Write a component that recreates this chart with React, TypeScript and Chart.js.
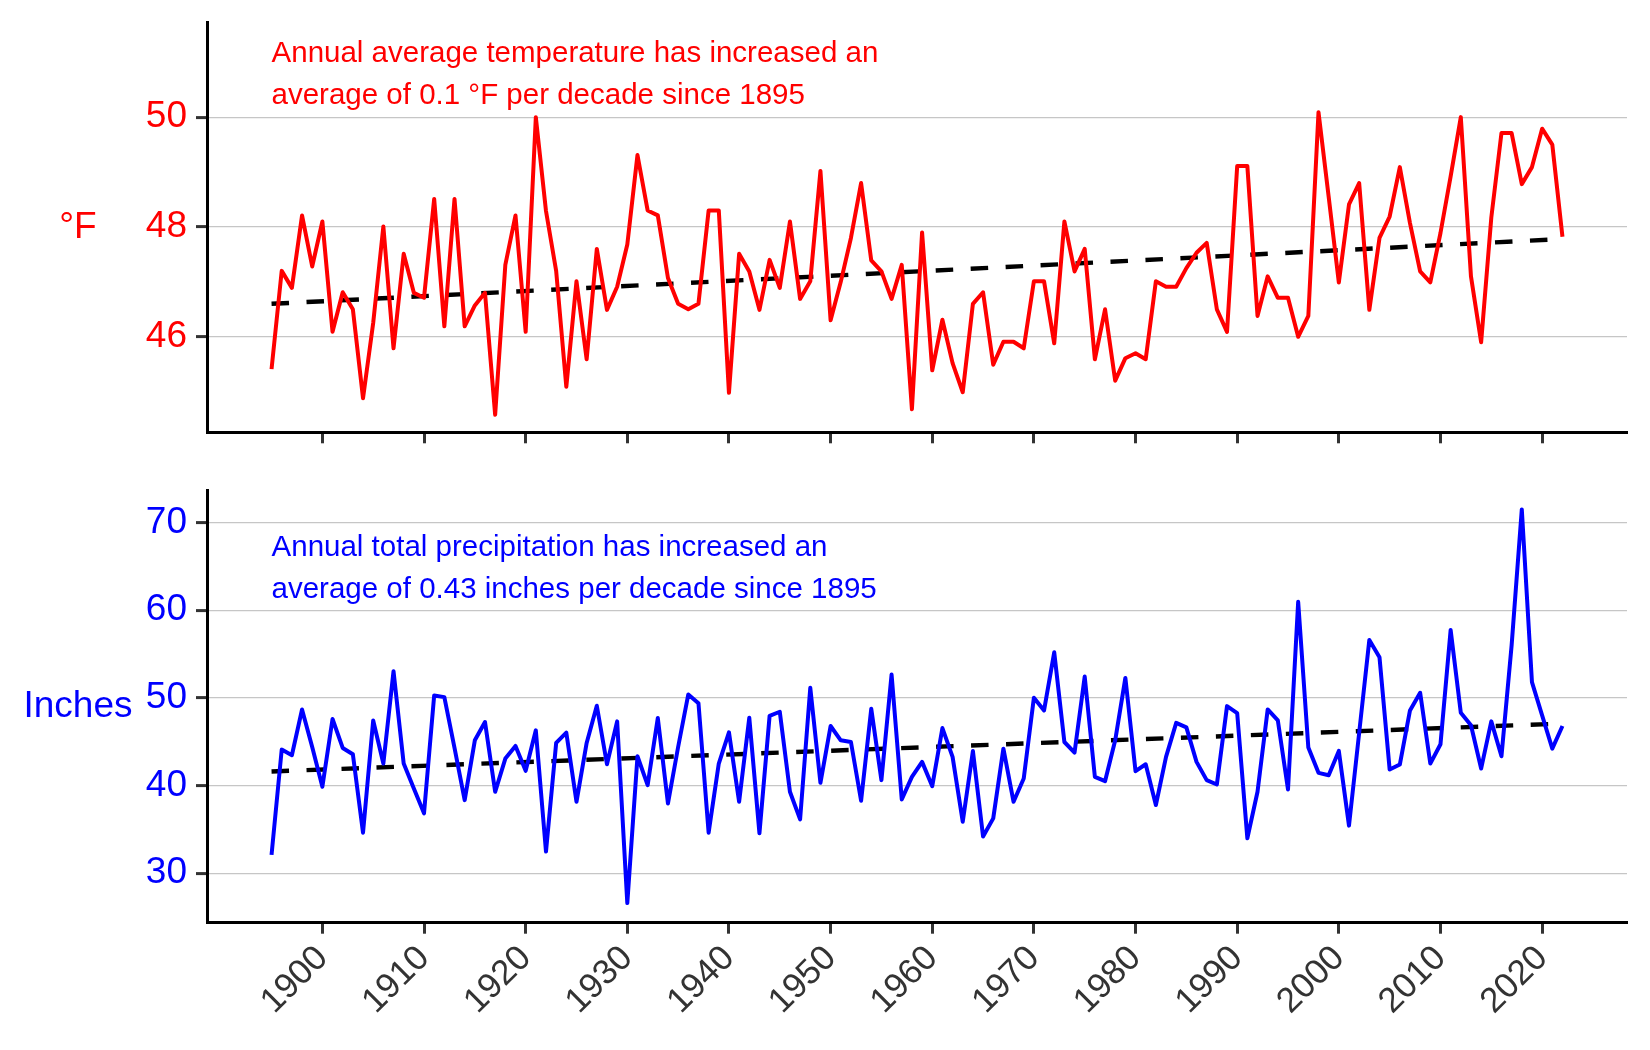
import { useEffect, useRef } from 'react';
import { Chart, registerables } from 'chart.js';

Chart.register(...registerables);

const years: number[] = Array.from({ length: 128 }, (_, i) => 1895 + i);

// annual average temperature, °F (1895-2022)
const temperature: number[] = [
  45.41, 47.2, 46.89, 48.21, 47.28,
  48.1, 46.09, 46.81, 46.5, 44.88, 46.25, 48.01, 45.79, 47.51, 46.8,
  46.71, 48.51, 46.19, 48.51, 46.19, 46.57, 46.8, 44.58, 47.31, 48.21,
  46.09, 50.0, 48.29, 47.2, 45.09, 47.01, 45.59, 47.6, 46.49, 46.91,
  47.68, 49.31, 48.3, 48.21, 47.07, 46.6, 46.5, 46.6, 48.3, 48.3,
  44.98, 47.51, 47.19, 46.49, 47.4, 46.89, 48.1, 46.69, 47.01, 49.02,
  46.3, 47.0, 47.8, 48.8, 47.39, 47.19, 46.69, 47.31, 44.68, 47.9,
  45.39, 46.31, 45.52, 44.99, 46.6, 46.81, 45.49, 45.91, 45.91, 45.79,
  47.01, 47.01, 45.88, 48.1, 47.19, 47.6, 45.59, 46.5, 45.2, 45.61,
  45.7, 45.59, 47.01, 46.91, 46.91, 47.25, 47.53, 47.71, 46.5, 46.09,
  49.11, 49.11, 46.38, 47.1, 46.71, 46.71, 46.0, 46.38, 50.09, 48.55,
  46.99, 48.41, 48.8, 46.49, 47.8, 48.19, 49.09, 48.07, 47.19, 46.99,
  47.89, 48.92, 50.0, 47.1, 45.9, 48.17, 49.71, 49.71, 48.78, 49.09,
  49.79, 49.5, 47.82,
];

// annual total precipitation, inches (1895-2022)
const precipitation: number[] = [
  32.08, 44.09, 43.45, 48.67, 44.39,
  39.85, 47.58, 44.28, 43.56, 34.62, 47.42, 42.5, 53.03, 42.5, 39.66,
  36.82, 50.27, 50.08, 44.3, 38.33, 45.15, 47.24, 39.28, 43.07, 44.51,
  41.67, 46.29, 32.46, 44.85, 46.02, 38.14, 44.85, 49.09, 42.42, 47.31,
  26.59, 43.33, 40.04, 47.69, 37.95, 44.39, 50.38, 49.39, 34.62, 42.5,
  46.06, 38.14, 47.73, 34.55, 47.95, 48.41, 39.28, 36.14, 51.14, 40.3,
  46.78, 45.15, 44.96, 38.26, 48.75, 40.61, 52.65, 38.41, 40.98, 42.69,
  39.92, 46.55, 43.26, 35.87, 43.94, 34.17, 36.25, 44.2, 38.14, 40.8,
  50.0, 48.56, 55.19, 44.96, 43.75, 52.42, 40.98, 40.49, 45.15, 52.27,
  41.63, 42.42, 37.77, 43.26, 47.14, 46.63, 42.69, 40.61, 40.11, 49.05,
  48.26, 33.98, 39.28, 48.67, 47.42, 39.55, 60.95, 44.32, 41.44, 41.17,
  43.94, 35.42, 46.0, 56.59, 54.62, 41.82, 42.39, 48.56, 50.57, 42.5,
  44.7, 57.73, 48.3, 46.86, 41.93, 47.31, 43.33, 56.0, 71.48, 51.78,
  47.99, 44.2, 46.78,
];

// linear trend end points
const trendYears: number[] = [1895, 2022];
const temperatureTrend: number[] = [46.6, 47.78];
const precipitationTrend: number[] = [41.6, 47.06];

const decadeTicks: number[] = [1900, 1910, 1920, 1930, 1940, 1950, 1960, 1970, 1980, 1990, 2000, 2010, 2020];
const temperatureTicks: number[] = [46, 48, 50];
const precipitationTicks: number[] = [30, 40, 50, 60, 70];

const temperatureNote: string[] = [
  'Annual average temperature has increased an',
  'average of 0.1 °F per decade since 1895',
];
const precipitationNote: string[] = [
  'Annual total precipitation has increased an',
  'average of 0.43 inches per decade since 1895',
];

const FONT = '"Liberation Sans", Arial, Helvetica, sans-serif';

interface PanelProps {
  values: number[];
  trend: number[];
  color: string;
  yMin: number;
  yMax: number;
  yTicks: number[];
  yTitle: string;
  note: string[];
  noteTop: number;
  showYearLabels: boolean;
  height: number;
  padTop: number;
  xAxisHeight: number;
}

const Panel: React.FC<PanelProps> = (p) => {
  const canvasRef = useRef<HTMLCanvasElement | null>(null);

  useEffect(() => {
    if (!canvasRef.current) return;

    const textPlugin = {
      id: 'panelText',
      afterDraw(chart: Chart) {
        const { ctx, chartArea, scales } = chart;
        ctx.save();
        ctx.fillStyle = p.color;
        ctx.font = `29.5px ${FONT}`;
        ctx.textAlign = 'left';
        ctx.textBaseline = 'alphabetic';
        const x0 = scales.x.getPixelForValue(years[0]);
        p.note.forEach((line, i) => ctx.fillText(line, x0, chartArea.top + p.noteTop + i * 42));
        ctx.font = `37px ${FONT}`;
        ctx.textAlign = 'center';
        ctx.textBaseline = 'middle';
        ctx.fillText(p.yTitle, 78, (chartArea.top + chartArea.bottom) / 2);
        ctx.restore();
      },
    };

    const chart = new Chart(canvasRef.current, {
      type: 'line',
      data: {
        datasets: [
          {
            data: years.map((y, i) => ({ x: y, y: p.values[i] })),
            borderColor: p.color,
            borderWidth: 4,
            borderJoinStyle: 'round',
            pointRadius: 0,
            tension: 0,
          },
          {
            data: trendYears.map((y, i) => ({ x: y, y: p.trend[i] })),
            borderColor: '#000',
            borderWidth: 4.4,
            borderDash: [17.5, 17.5],
            pointRadius: 0,
          },
        ],
      },
      options: {
        responsive: false,
        animation: false,
        layout: { padding: { top: p.padTop, right: 23, left: 0, bottom: 0 } },
        plugins: { legend: { display: false }, tooltip: { enabled: false } },
        scales: {
          x: {
            type: 'linear',
            min: 1888.65,
            max: 2028.35,
            afterBuildTicks: (s: any) => {
              s.ticks = decadeTicks.map((v) => ({ value: v }));
            },
            afterFit: (s: any) => {
              s.height = p.xAxisHeight;
              s.paddingLeft = 0;
              s.paddingRight = 0;
            },
            grid: { drawOnChartArea: false, drawTicks: true, tickLength: 11, tickWidth: 3, tickColor: '#333' },
            border: { display: true, color: '#000', width: 3 },
            ticks: {
              display: p.showYearLabels,
              autoSkip: false,
              maxRotation: 45,
              minRotation: 45,
              padding: 4,
              color: '#333',
              font: { family: FONT, size: 35 },
              callback: (v: any) => String(v),
            },
          },
          y: {
            min: p.yMin,
            max: p.yMax,
            afterBuildTicks: (s: any) => {
              s.ticks = p.yTicks.map((v) => ({ value: v }));
            },
            afterFit: (s: any) => {
              s.width = 207;
              s.paddingTop = 0;
              s.paddingBottom = 0;
            },
            grid: { color: '#c6c6c6', lineWidth: 1.2, drawTicks: true, tickLength: 11, tickWidth: 3, tickColor: '#333' },
            border: { display: true, color: '#000', width: 3 },
            ticks: {
              color: p.color,
              padding: 9,
              font: { family: FONT, size: 37, lineHeight: 1 },
              callback: (v: any) => String(v),
            },
          },
        },
      },
      plugins: [textPlugin],
    });

    return () => {
      chart.destroy();
    };
  }, [p]);

  return <canvas ref={canvasRef} width={1650} height={p.height} style={{ display: 'block' }} />;
};

const App: React.FC = () => {
  return (
    <div style={{ position: 'fixed', left: 0, top: 0, width: 1650, height: 1050, background: '#fff' }}>
      <div style={{ position: 'absolute', left: 0, top: 0 }}>
        <Panel
          values={temperature}
          trend={temperatureTrend}
          color="#ff0000"
          yMin={44.26}
          yMax={51.72}
          yTicks={temperatureTicks}
          yTitle="°F"
          note={temperatureNote}
          noteTop={39.6}
          showYearLabels={false}
          height={470}
          padTop={22.7}
          xAxisHeight={37.7}
        />
      </div>
      <div style={{ position: 'absolute', left: 0, top: 470 }}>
        <Panel
          values={precipitation}
          trend={precipitationTrend}
          color="#0000ff"
          yMin={24.35}
          yMax={73.7}
          yTicks={precipitationTicks}
          yTitle="Inches"
          note={precipitationNote}
          noteTop={66}
          showYearLabels={true}
          height={580}
          padTop={20}
          xAxisHeight={127.3}
        />
      </div>
    </div>
  );
};

export default App;
